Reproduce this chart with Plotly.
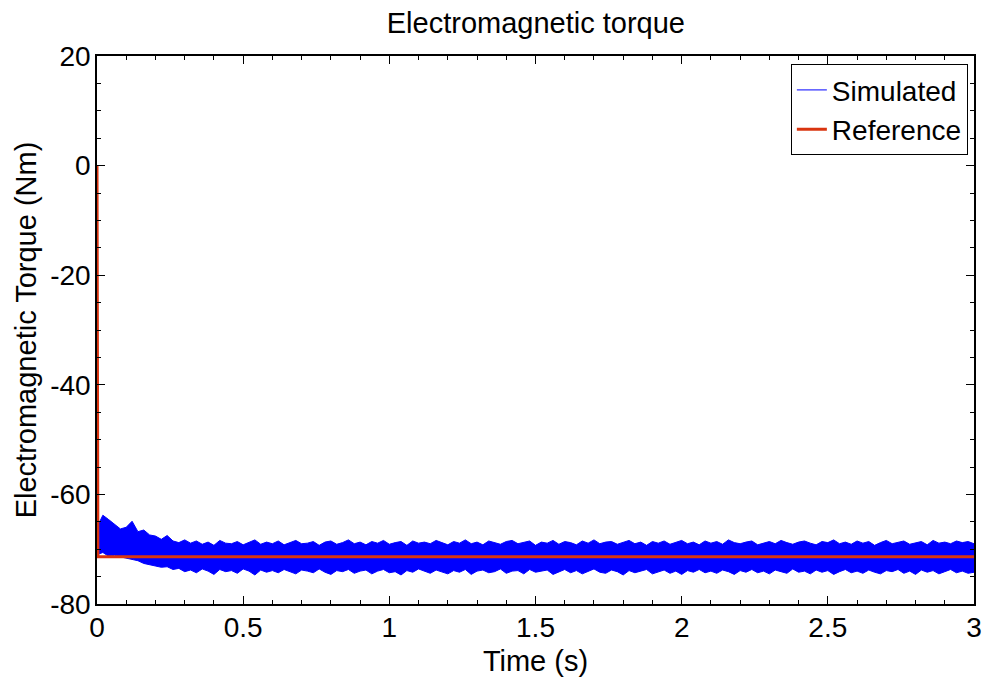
import numpy as np
import plotly.graph_objects as go

# sampled envelope of the simulated torque band (every 0.02 s, 0..3 s)
t_sim = np.linspace(0, 3, 151)

sim_upper = [-66.0, -63.8, -64.6, -65.5, -66.3, -66.0, -64.9, -66.8, -66.5, -67.4, -67.6, -68.2, -67.5, -68.5, -68.8, -68.3,
             -68.9, -68.5, -69.1, -68.7, -69.3, -68.4, -68.9, -69.0, -68.6, -69.2, -68.8, -68.3, -69.1, -68.7, -69.0,
             -68.5, -69.2, -68.8, -68.4, -69.0, -68.9, -68.6, -69.3, -68.7, -68.5, -69.1, -68.8, -68.3, -69.0, -68.7,
             -69.2, -68.6, -68.9, -68.4, -69.1, -68.8, -68.6, -69.3, -68.5, -68.9, -68.7, -69.0, -68.4, -68.8, -69.2,
             -68.6, -68.9, -68.3, -69.0, -68.7, -69.2, -68.5, -68.8, -69.1, -68.6, -68.4, -69.0, -68.8, -68.5, -69.3,
             -68.7, -68.9, -68.4, -69.1, -68.6, -68.8, -69.2, -68.5, -68.9, -68.3, -69.0, -68.7, -68.6, -69.1, -68.8,
             -68.4, -69.0, -68.7, -69.3, -68.6, -68.9, -68.5, -69.1, -68.8, -68.4, -69.0, -68.7, -69.2, -68.5, -68.9,
             -68.6, -69.1, -68.3, -68.8, -69.0, -68.7, -68.5, -69.2, -68.9, -68.6, -69.0, -68.4, -68.8, -69.1, -68.7,
             -68.5, -68.9, -69.2, -68.6, -68.8, -68.3, -69.0, -68.7, -69.1, -68.5, -68.9, -68.6, -69.3, -68.8, -68.4,
             -69.0, -68.7, -68.5, -69.1, -68.8, -68.6, -69.2, -68.4, -68.9, -68.7, -69.0, -68.5, -68.8, -68.6, -69.0]

sim_lower = [-71.0, -70.6, -71.3, -71.1, -71.4, -71.6, -71.9, -72.1, -72.6, -72.8, -73.1, -73.3, -73.2, -73.7, -73.5, -74.1,
             -73.8, -74.3, -73.6, -74.0, -74.6, -73.7, -74.1, -73.9, -74.4, -73.6, -74.0, -74.7, -73.8, -74.2, -73.9,
             -74.3, -73.7, -74.1, -74.5, -73.8, -74.0, -74.3, -73.6, -74.2, -74.6, -73.9, -74.1, -73.7, -74.4, -74.0,
             -73.8, -74.5, -74.0, -73.7, -74.3, -74.1, -74.7, -73.9, -74.2, -73.6, -74.0, -74.4, -73.8, -74.1, -74.5,
             -73.9, -74.2, -73.7, -74.6, -74.0, -73.8, -74.3, -74.1, -73.6, -74.4, -74.0, -73.9, -74.5, -73.7, -74.2,
             -74.0, -73.8, -74.6, -74.1, -73.7, -74.3, -73.9, -74.5, -74.0, -73.6, -74.2, -74.4, -73.8, -74.1, -74.7,
             -73.9, -74.3, -74.0, -73.7, -74.5, -74.1, -73.8, -74.4, -74.0, -74.6, -73.9, -74.2, -73.7, -74.3, -74.0,
             -74.4, -73.8, -74.1, -74.6, -73.9, -74.2, -73.7, -74.3, -74.0, -74.5, -73.8, -74.1, -74.4, -73.6, -74.2,
             -74.0, -74.5, -73.8, -74.2, -73.9, -74.6, -74.1, -73.7, -74.3, -74.0, -74.4, -73.8, -74.2, -74.5, -73.9,
             -74.1, -73.7, -74.4, -74.0, -74.6, -73.8, -74.2, -73.9, -74.5, -74.1, -73.7, -74.3, -74.0, -74.4, -74.2]

# reference torque: step from 0 to the load value
t_ref = [0, 0.003, 3.0]
ref = [0, -71.4, -71.4]

y_ticks = [20, 0, -20, -40, -60, -80]
y_ticktext = ["20", "0", "-20", "-40", "-60", "-80"]

FONT = "Liberation Sans, Arial, sans-serif"
BLUE = "#0000FF"
RED = "#D9340F"

fig = go.Figure()

# simulated band as a filled polygon (upper edge then lower edge reversed)
fig.add_trace(go.Scatter(
    x=list(t_sim) + list(t_sim[::-1]),
    y=sim_upper + sim_lower[::-1],
    fill="toself", fillcolor=BLUE,
    line=dict(color=BLUE, width=1),
    mode="lines", showlegend=False, hoverinfo="skip"))
# legend entry for the band
fig.add_trace(go.Scatter(x=[None], y=[None], mode="lines", name="Simulated",
                         line=dict(color=BLUE, width=1)))
fig.add_trace(go.Scatter(x=t_ref, y=ref, mode="lines", name="Reference",
                         line=dict(color=RED, width=3)))

axis = dict(showline=True, linecolor="black", linewidth=1.5, mirror="allticks",
            ticks="inside", ticklen=8, tickcolor="black", tickwidth=1,
            showgrid=False, zeroline=False, automargin=False,
            tickfont=dict(size=28, color="black", family=FONT),
            minor=dict(ticks="inside", ticklen=4, tickcolor="black", tickwidth=1, nticks=5))

fig.update_xaxes(axis, range=[0, 3], dtick=0.5, ticklabelstandoff=-2,
                 title=dict(text="Time (s)", font=dict(size=29, color="black", family=FONT), standoff=10))
fig.update_yaxes(axis, range=[-80, 20], tickvals=y_ticks, ticktext=y_ticktext, ticklabelstandoff=-1,
                 title=dict(text="Electromagnetic Torque (Nm)", font=dict(size=29, color="black", family=FONT), standoff=5))

fig.update_layout(
    width=986, height=677,
    margin=dict(l=97, r=12, t=56, b=73),
    paper_bgcolor="white", plot_bgcolor="white",
    title=dict(text="Electromagnetic torque", x=0.5435, xanchor="center",
               y=1 - 23 / 677, yref="container", yanchor="middle",
               font=dict(size=29, color="black", family=FONT)),
    legend=dict(x=0.993, xanchor="right", y=0.985, yanchor="top",
                bgcolor="white", bordercolor="black", borderwidth=1,
                font=dict(size=28, color="black", family=FONT)),
    showlegend=True,
)

fig.write_html("out.html", config={"displayModeBar": False},
               post_script="document.body.style.margin='0';document.body.style.overflow='hidden';")
